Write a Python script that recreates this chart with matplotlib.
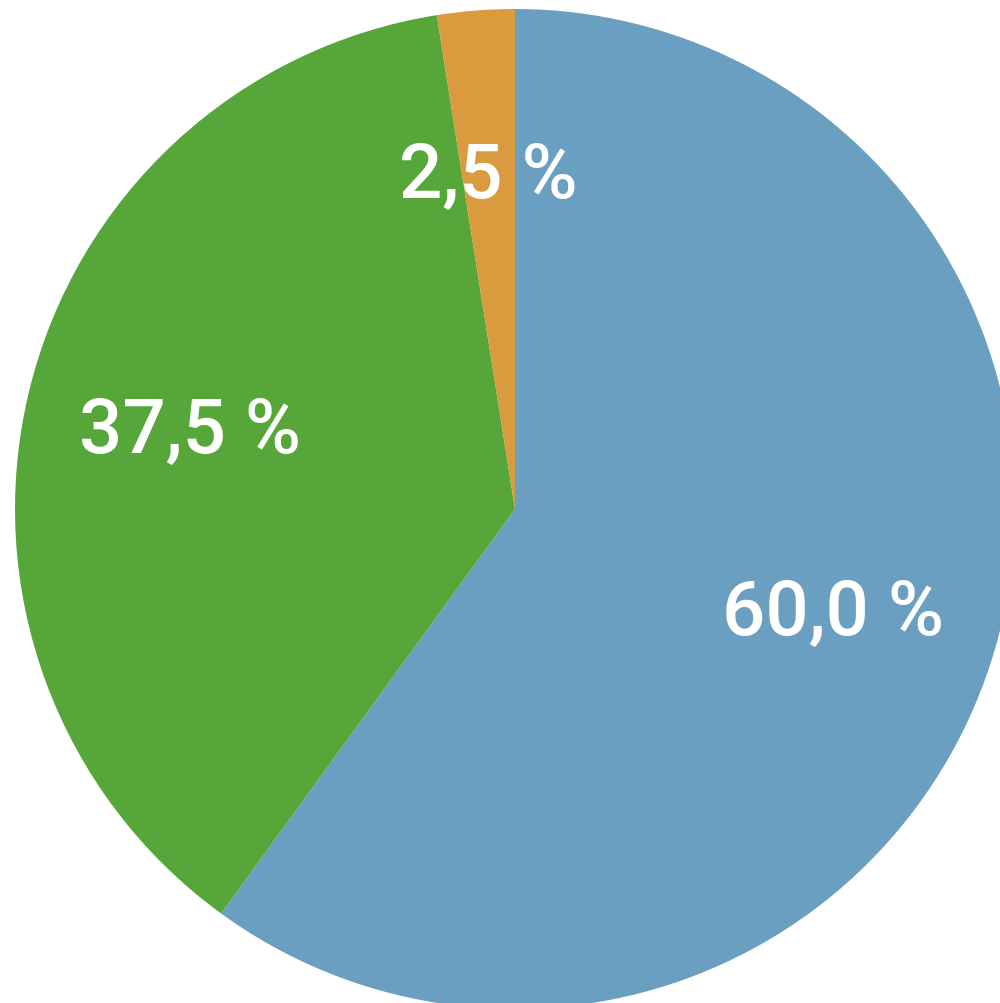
import matplotlib
matplotlib.use("Agg")
import matplotlib.pyplot as plt
import numpy as np

labels = ["Blue", "Green", "Orange"]
values = [60.0, 37.5, 2.5]
label_texts = ["60,0 %", "37,5 %", "2,5 %"]
colors = ["#6b9fc1", "#56a63a", "#d99b3d"]

fig = plt.figure(figsize=(10, 10.04), dpi=100)
ax = fig.add_axes([0, 0, 1, 1])
wedges, _ = ax.pie(values, colors=colors, startangle=90, counterclock=False,
                   radius=1.0, center=(0, 0),
                   wedgeprops=dict(linewidth=0))
theta = 90.0
for v, t in zip(values, label_texts):
    mid = theta - v * 3.6 / 2
    theta -= v * 3.6
    r = 0.668
    x = r * np.cos(np.radians(mid))
    y = r * np.sin(np.radians(mid))
    ax.text(x, y, t, ha="center", va="center", color="white",
            fontsize=55, family="Roboto", fontweight="medium")
ax.set_xlim(-1.03, 0.97)
ax.set_ylim(-0.988, 1.02)
ax.set_aspect("auto")
ax.axis("off")
fig.savefig("out.png", dpi=100)
